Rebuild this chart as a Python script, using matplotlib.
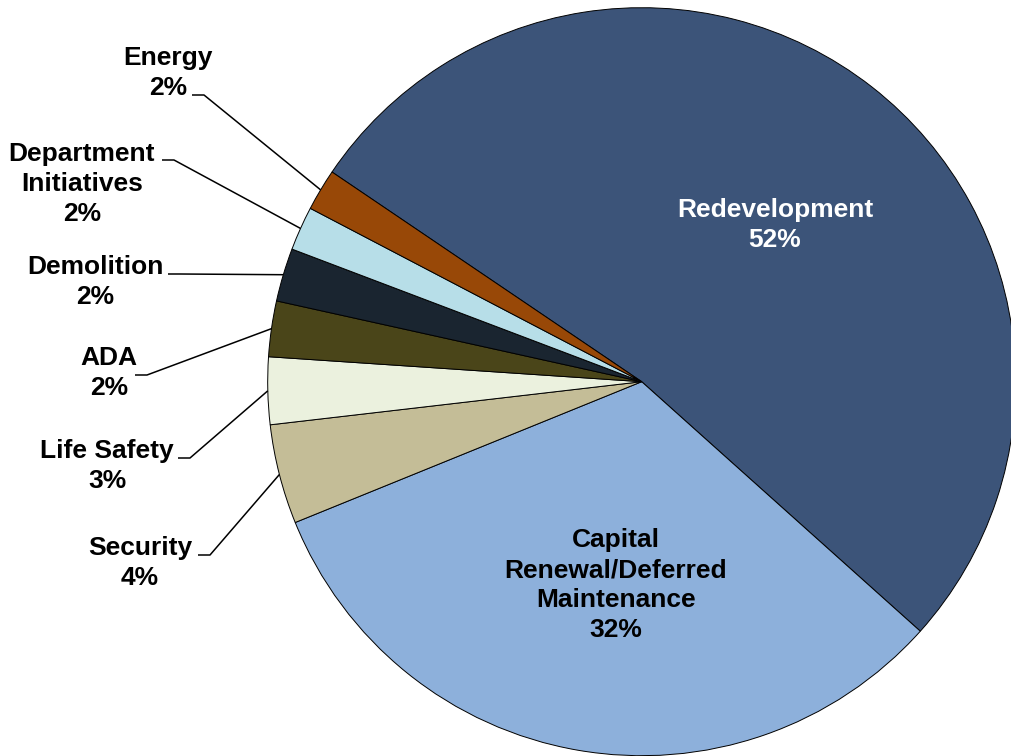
import matplotlib.pyplot as plt
import numpy as np

plt.rcParams["font.family"] = ["Liberation Sans", "DejaVu Sans"]

W, H = 1011, 756

# Budget shares in percent, in drawing order (clockwise)
categories = [
    "Redevelopment",
    "Capital\nRenewal/Deferred\nMaintenance",
    "Security",
    "Life Safety",
    "ADA",
    "Demolition",
    "Department\nInitiatives",
    "Energy",
]
shares = [52.1, 32.2, 4.3, 2.9, 2.4, 2.3, 1.9, 1.8]
colors = [
    "#3C5479", "#8DB0DB", "#C4BD97", "#EBF1DE",
    "#4A4519", "#1A2530", "#B7DEE8", "#984807",
]

# Label placement in pixel coordinates (y measured from the top)
inside_labels = {
    "Redevelopment": ((775, 225), "white"),
    "Capital\nRenewal/Deferred\nMaintenance": ((616, 585), "black"),
}
outside_labels = {
    "Energy": ((168, 73), (192, 95)),
    "Department\nInitiatives": ((82, 184), (162, 160)),
    "Demolition": ((95, 282), (168, 274)),
    "ADA": ((109, 373), (135, 375)),
    "Life Safety": ((107, 466), (178, 458)),
    "Security": ((140, 563), (198, 555)),
}

center = (641.7, H - 381.7)
radius = 374
label_style = dict(ha="center", va="center", fontsize=19,
                   fontweight="bold", linespacing=1.3)

fig = plt.figure(figsize=(W / 100, H / 100), dpi=100)
ax = fig.add_axes([0, 0, 1, 1])

wedges, _ = ax.pie(
    shares,
    colors=colors,
    startangle=145.9,
    counterclock=False,
    center=center,
    radius=radius,
    frame=True,
    wedgeprops={"edgecolor": "black", "linewidth": 0.7},
)

total = sum(shares)
for name, value, wedge in zip(categories, shares, wedges):
    text = f"{name}\n{value / total * 100:.0f}%"
    if name in inside_labels:
        (x, y), color = inside_labels[name]
        ax.text(x, H - y, text, color=color, **label_style)
        continue

    (x, y), (lx, ly) = outside_labels[name]
    ax.text(x, H - y, text, color="black", **label_style)

    # leader: short horizontal tick, then straight to the wedge edge
    mid = np.deg2rad((wedge.theta1 + wedge.theta2) / 2)
    ex = wedge.center[0] + wedge.r * np.cos(mid)
    ey = wedge.center[1] + wedge.r * np.sin(mid)
    ax.plot([lx, lx + 12, ex], [H - ly, H - ly, ey], color="black",
            linewidth=1.1, solid_capstyle="butt")

ax.set_xlim(0, W)
ax.set_ylim(0, H)
ax.set_aspect("equal")
ax.axis("off")

fig.savefig("out.png", dpi=100)
